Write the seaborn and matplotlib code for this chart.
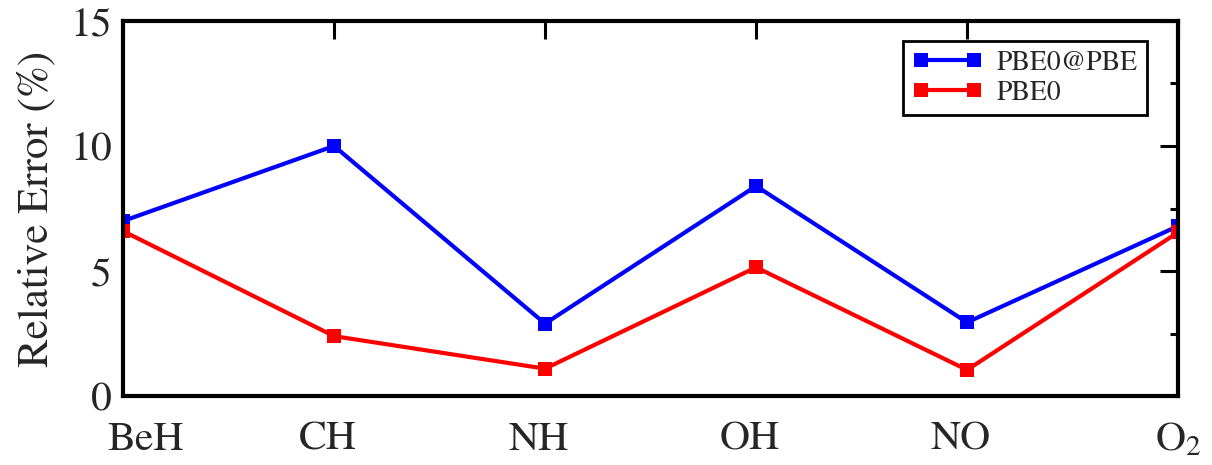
import pandas as pd
import seaborn as sns
from matplotlib import pyplot as plt
from matplotlib import transforms
from matplotlib.ticker import MultipleLocator

# * data
molecules = ["BeH", "CH", "NH", "OH", "NO", "O$_2$"]
pbe0_at_pbe = [7.0, 10.0, 2.9, 8.4, 2.95, 6.8]
pbe0 = [6.6, 2.4, 1.1, 5.15, 1.05, 6.55]

df = pd.DataFrame({
    "molecule": molecules * 2,
    "error": pbe0_at_pbe + pbe0,
    "method": ["PBE0@PBE"] * len(molecules) + ["PBE0"] * len(molecules),
})

sns.set_style("white")
plt.rcParams["font.family"] = ["STIXGeneral", "DejaVu Serif"]
plt.rcParams["mathtext.fontset"] = "stix"

fig = plt.figure(figsize=(12.12, 4.65), dpi=100)
ax = fig.add_axes([0.1015, 0.148, 0.8705, 0.807])

sns.lineplot(
    data=df, x="molecule", y="error", hue="method", style="method",
    palette={"PBE0@PBE": "#0000ff", "PBE0": "#ff0000"},
    markers={"PBE0@PBE": "s", "PBE0": "s"},
    dashes=False, sort=False, linewidth=3, markersize=10,
    markeredgewidth=0, ax=ax,
)

ax.set_xlim(0, len(molecules) - 1)
ax.set_ylim(0, 15)
ax.set_xticks(range(len(molecules)))
ax.set_xticklabels(molecules)
ax.yaxis.set_major_locator(MultipleLocator(5))
ax.yaxis.set_minor_locator(MultipleLocator(2.5))

ax.set_xlabel("")
ax.set_ylabel("Relative Error (%)", fontsize=31, labelpad=10)

for s in ax.spines.values():
    s.set_linewidth(3)
    s.set_color("black")

ax.tick_params(axis="both", which="both", direction="in", top=True, right=True,
               color="black", width=2.2)
ax.tick_params(axis="both", which="major", length=13, labelsize=30)
ax.tick_params(axis="y", which="minor", length=6)
ax.tick_params(axis="x", which="major", pad=18)
ax.tick_params(axis="y", which="major", pad=8)

# * nudge tick labels like the original (first one pushed inside)
for i, lbl in enumerate(ax.get_xticklabels()):
    dx = 22 if i == 0 else (0 if i == len(molecules) - 1 else -6)
    lbl.set_transform(lbl.get_transform() + transforms.ScaledTranslation(dx / 100, 0, fig.dpi_scale_trans))

leg = ax.legend(loc="upper right", bbox_to_anchor=(0.9706, 0.9467), borderaxespad=0,
                fontsize=20, frameon=True, fancybox=False, numpoints=2,
                handlelength=2.5, borderpad=0.35, labelspacing=0.15, handletextpad=0.5)
leg.get_frame().set_edgecolor("black")
leg.get_frame().set_linewidth(2)
leg.get_frame().set_alpha(1)

fig.savefig("out.png", dpi=100)
plt.close(fig)
